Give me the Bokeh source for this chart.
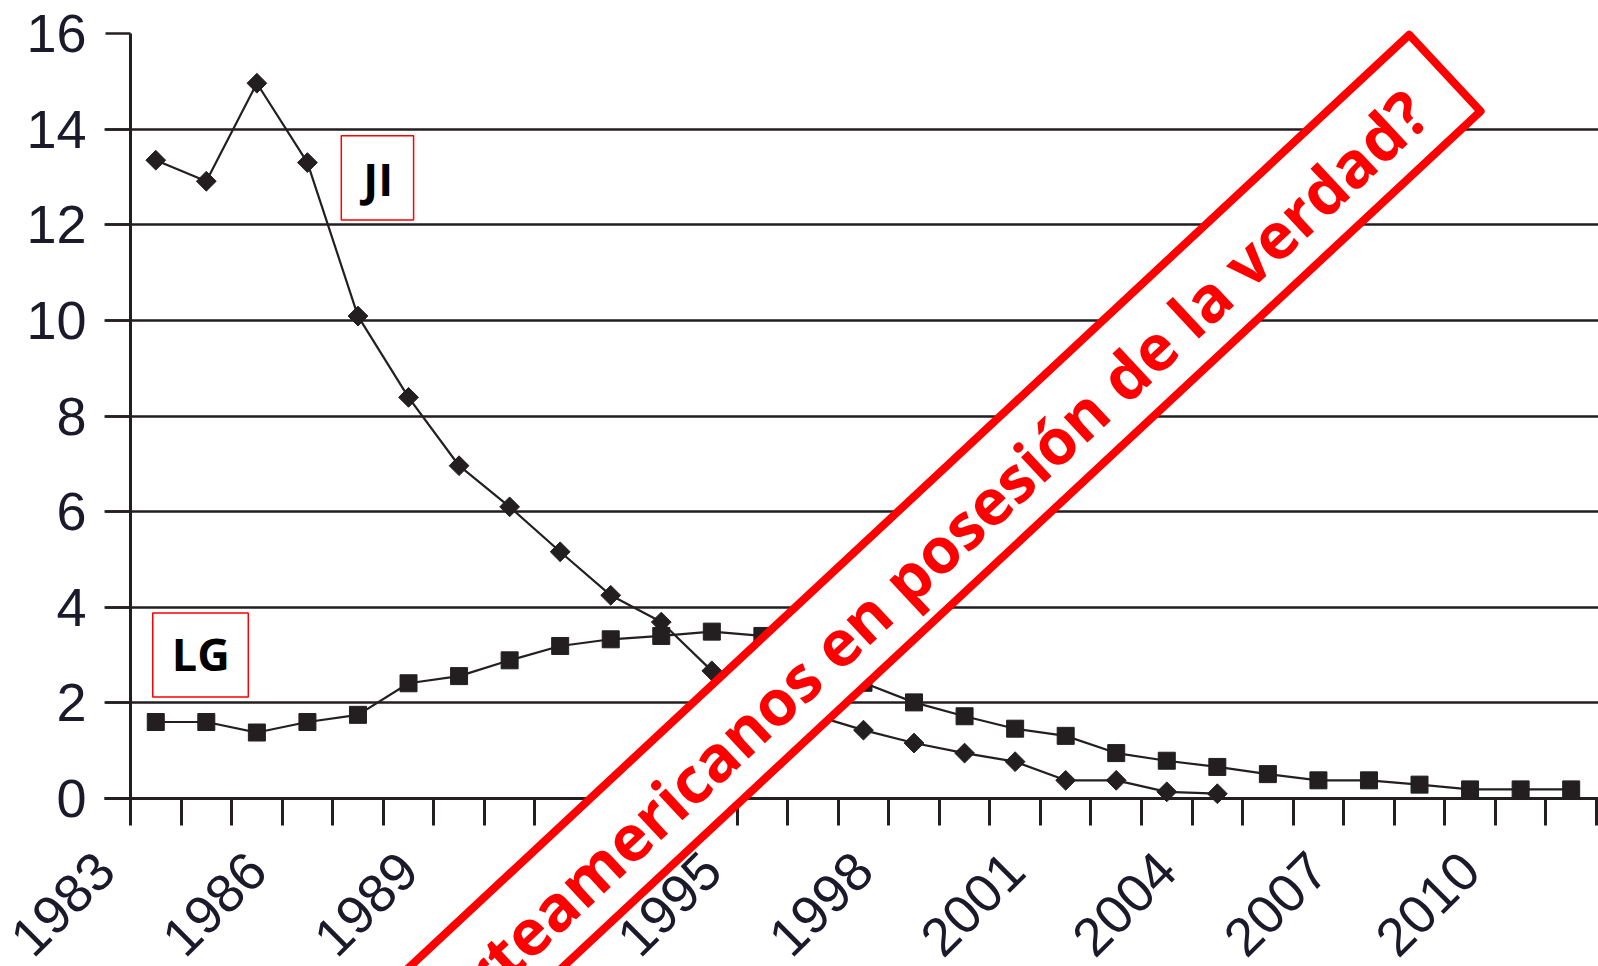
import math
from bokeh.plotting import figure
from bokeh.models import Range1d, FixedTicker, PolyAnnotation, Label, BoxAnnotation
from bokeh.embed import file_html
from bokeh.resources import INLINE

# ---------------- data ----------------
years = list(range(1983, 2012))
lg_values = [1.60, 1.60, 1.38, 1.60, 1.75, 2.41, 2.56, 2.89, 3.19, 3.33,
             3.40, 3.49, 3.40, 2.95, 2.42, 2.01, 1.72, 1.46, 1.31, 0.95,
             0.79, 0.66, 0.51, 0.38, 0.38, 0.29, 0.19, 0.19, 0.19]
ji_years = list(range(1983, 2005))
ji_values = [13.35, 12.91, 14.96, 13.30, 10.09, 8.39, 6.96, 6.10, 5.16, 4.25,
             3.69, 2.67, 2.20, 1.75, 1.43, 1.16, 0.95, 0.77, 0.38, 0.38,
             0.14, 0.10]
label_years = list(range(1983, 2011, 3))
minor_years = list(range(1983, 2013))
y_ticks = list(range(0, 17, 2))
grid_ticks = [t for t in y_ticks if t < 16]

banner_text = "¿Son los norteamericanos en posesión de la verdad?"

# ---------------- style / layout ----------------
INK = "#231f20"
TEXT = "#1a1a2a"
RED = "#ff0000"

W, H = 1598, 966
TOP_PX = 33               # page y of value 16
AXIS_PX = 130             # page x of the value axis (year 1983)
TICK_OUT = 25             # y tick length (grid lines start there too)
PX_YEAR = 50.55
PX_UNIT = 765 / 16
X0 = 1983 - AXIS_PX / PX_YEAR
X1 = X0 + W / PX_YEAR
Y1 = 16 + TOP_PX / PX_UNIT
Y0 = Y1 - H / PX_UNIT
LABEL_SHIFT = -0.5


def dx(px):  # page pixel -> data x
    return X0 + px / PX_YEAR


def dy(py):  # page pixel -> data y
    return Y1 - py / PX_UNIT


GX0 = dx(AXIS_PX - TICK_OUT - 0.8)

p = figure(width=W, height=H, x_range=Range1d(X0, X1), y_range=Range1d(Y0, Y1),
           output_backend="svg", toolbar_location=None,
           min_border_left=0, min_border_right=0, min_border_top=0, min_border_bottom=0,
           outline_line_color=None, background_fill_color="white", border_fill_color="white")

# grid
p.xgrid.grid_line_color = None
grid = p.ygrid[0]
if "cross_bounds" in grid.properties():
    grid.ticker = FixedTicker(ticks=grid_ticks)
    grid.cross_bounds = (GX0, X1)
    grid.grid_line_color = INK
    grid.grid_line_width = 2.5
else:
    grid.grid_line_color = None
    p.segment(x0=[GX0] * len(grid_ticks), y0=grid_ticks, x1=[X1] * len(grid_ticks),
              y1=grid_ticks, line_color=INK, line_width=2.5, level="underlay")

# y axis
ya = p.yaxis[0]
ya.fixed_location = 1983
ya.ticker = FixedTicker(ticks=y_ticks)
ya.bounds = (0, 16)
ya.axis_line_color = INK
ya.axis_line_width = 3
ya.major_tick_out = TICK_OUT
ya.major_tick_in = 0
ya.major_tick_line_color = INK
ya.major_tick_line_width = 2.5
ya.minor_tick_out = 0
ya.minor_tick_in = 0
ya.major_label_standoff = 19
ya.major_label_text_font = "Liberation Sans"
ya.major_label_text_font_size = "54px"
ya.major_label_text_color = TEXT

# x axis
xa = p.xaxis[0]
xa.fixed_location = 0
xa.bounds = (GX0, X1)
major_pos = [y + LABEL_SHIFT for y in label_years]
xa.ticker = FixedTicker(ticks=major_pos, minor_ticks=minor_years)
xa.major_label_overrides = {m: str(y) for m, y in zip(major_pos, label_years)}
xa.axis_line_color = INK
xa.axis_line_width = 3
xa.major_tick_out = 0
xa.major_tick_in = 0
xa.major_tick_line_color = None
xa.minor_tick_out = 27
xa.minor_tick_in = 0
xa.minor_tick_line_color = INK
xa.minor_tick_line_width = 3
xa.major_label_orientation = math.pi / 4
xa.major_label_standoff = 36
xa.major_label_text_font = "Liberation Sans"
xa.major_label_text_font_size = "54px"
xa.major_label_text_color = TEXT

# series (category centres)
lg_x = [y + 0.5 for y in years]
ji_x = [y + 0.5 for y in ji_years]
p.line(lg_x, lg_values, line_color=INK, line_width=2.2)
p.scatter(lg_x, lg_values, marker="square", size=17, fill_color=INK, line_color=INK)
p.line(ji_x, ji_values, line_color=INK, line_width=2.2)
p.scatter(ji_x, ji_values, marker="square", angle=math.pi / 4, size=14,
          fill_color=INK, line_color=INK)

# series name boxes
for (l, r, b, t, tx, ty, name) in [
    (1987.17, 1988.60, 12.10, 13.86, 1987.90, 12.97, "JI"),
    (1983.44, 1985.33, 2.125, 3.88, 1984.39, 3.04, "LG"),
]:
    p.add_layout(BoxAnnotation(left=l, right=r, bottom=b, top=t, fill_color="white",
                               fill_alpha=1, line_color=RED, line_alpha=1, line_width=1.5))
    p.add_layout(Label(x=tx, y=ty, text=name, text_font="Open Sans", text_font_style="bold",
                       text_font_size="45px", text_color="black", text_align="center",
                       text_baseline="middle"))

# diagonal banner (overlay, positioned in page pixels)
ang = math.radians(43)
tdir = (math.cos(ang), -math.sin(ang))
ndir = (math.sin(ang), math.cos(ang))
END = (1444.4, 72.5)
HW = 52.3
LEN = 1700
c1 = (END[0] - ndir[0] * HW, END[1] - ndir[1] * HW)
c2 = (END[0] + ndir[0] * HW, END[1] + ndir[1] * HW)
c3 = (c2[0] - tdir[0] * LEN, c2[1] - tdir[1] * LEN)
c4 = (c1[0] - tdir[0] * LEN, c1[1] - tdir[1] * LEN)
corners = [c1, c2, c3, c4]
p.add_layout(PolyAnnotation(xs=[dx(c[0]) for c in corners], ys=[dy(c[1]) for c in corners],
                            fill_color="white", fill_alpha=1, line_color=RED, line_alpha=1,
                            line_width=8, line_join="round", level="overlay"))
GAP, PERP = 40, 2.0
anchor = (END[0] - tdir[0] * GAP + ndir[0] * PERP, END[1] - tdir[1] * GAP + ndir[1] * PERP)
p.add_layout(Label(x=dx(anchor[0]), y=dy(anchor[1]), text=banner_text, angle=43,
                   angle_units="deg", text_align="right", text_baseline="middle",
                   text_font="Open Sans", text_font_style="bold", text_font_size="63.5px",
                   text_color=RED, level="overlay"))

open("out.html", "w").write(file_html(p, INLINE))
